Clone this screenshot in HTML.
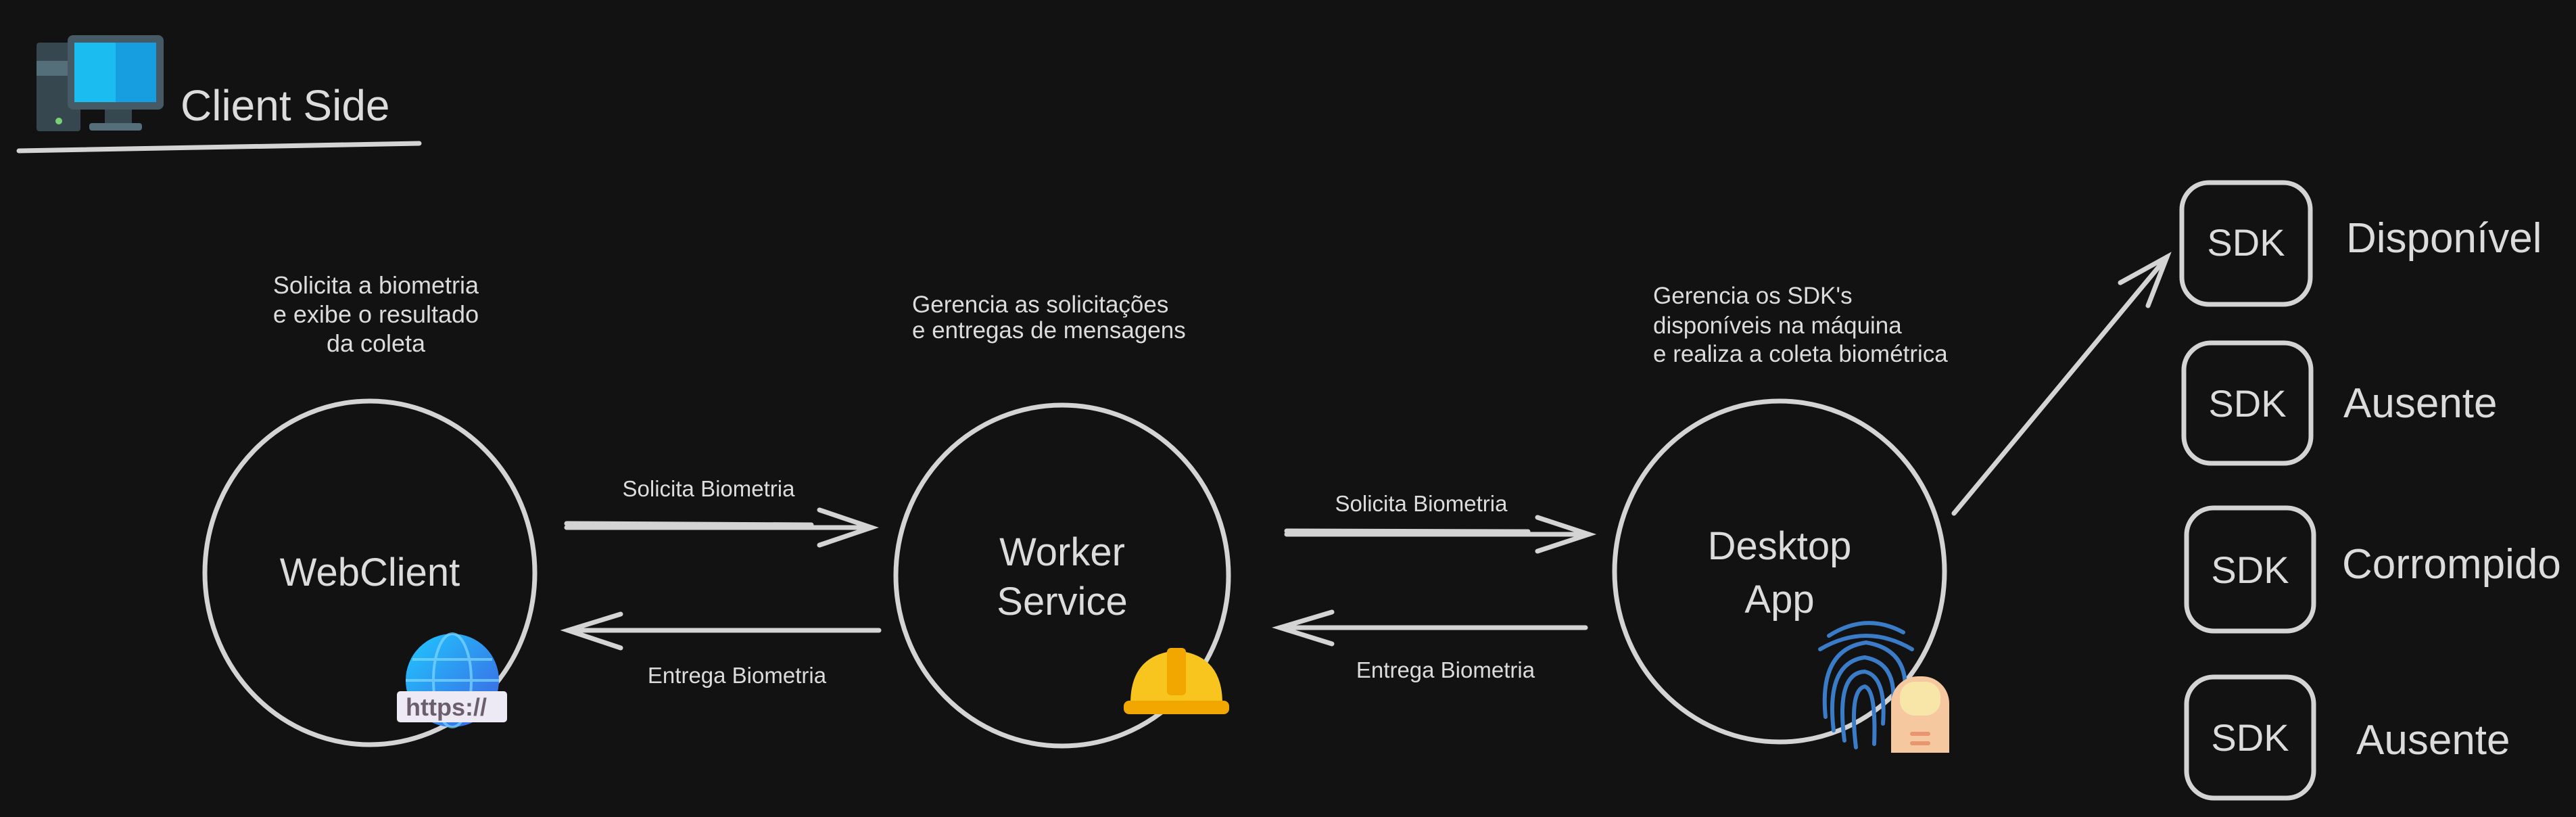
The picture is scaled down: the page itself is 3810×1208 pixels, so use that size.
<!DOCTYPE html>
<html><head><meta charset="utf-8"><style>
html,body{margin:0;padding:0;background:#121212;}
svg{display:block;}
text{font-family:"Liberation Sans",sans-serif;fill:#dcdcdc;}
</style></head><body>
<svg width="3810" height="1208" viewBox="0 0 3810 1208" xmlns="http://www.w3.org/2000/svg">
<rect width="3810" height="1208" fill="#121212"/>
<g fill="none" stroke="#d4d4d4" stroke-width="7" stroke-linecap="round">
<path d="M28 223 L620 212"/>
<ellipse cx="547" cy="847" rx="244" ry="254"/>
<ellipse cx="1571" cy="851" rx="246" ry="252"/>
<ellipse cx="2632" cy="845" rx="244" ry="252"/>
<path d="M838 780 L1289 780 M838 774 L1200 776"/>
<path d="M1212 754 L1289 780 L1212 806"/>
<path d="M1300 932 L840 932"/>
<path d="M918 908 L840 932 L918 958"/>
<path d="M1903 790 L2350 790 M1903 785 L2260 786"/>
<path d="M2274 765 L2350 790 L2274 815"/>
<path d="M2345 928 L1893 928"/>
<path d="M1970 905 L1893 928 L1970 952"/>
<path d="M2890 759 L3205 380"/>
<path d="M3136 418 L3205 380 L3177 452"/>
<rect x="3227" y="270" width="190" height="180" rx="40"/>
<rect x="3230" y="507" width="188" height="178" rx="40"/>
<rect x="3234" y="751" width="188" height="182" rx="40"/>
<rect x="3234" y="1001" width="188" height="179" rx="40"/>
</g>
<rect x="54" y="63" width="65" height="131" rx="4" fill="#37474f"/>
<rect x="54" y="90" width="65" height="22" fill="#546e7a"/>
<circle cx="87" cy="179" r="5" fill="#76d275"/>
<rect x="100" y="52" width="142" height="110" rx="8" fill="#455a64"/>
<rect x="110" y="63" width="61" height="88" fill="#1bbcf0"/>
<rect x="171" y="63" width="60" height="88" fill="#169ee0"/>
<rect x="155" y="162" width="40" height="22" fill="#37474f"/>
<rect x="132" y="182" width="78" height="11" rx="4" fill="#546e7a"/>
<text x="267" y="178" font-size="64">Client Side</text>
<g font-size="36" text-anchor="middle">
<text x="556" y="434">Solicita a biometria</text>
<text x="556" y="477">e exibe o resultado</text>
<text x="556" y="520">da coleta</text>
</g>
<g font-size="35">
<text x="1349" y="462">Gerencia as solicitações</text>
<text x="1349" y="500">e entregas de mensagens</text>
<text x="2445" y="449">Gerencia os SDK's</text>
<text x="2445" y="493">disponíveis na máquina</text>
<text x="2445" y="535">e realiza a coleta biométrica</text>
</g>
<g font-size="33" text-anchor="middle">
<text x="1048" y="734">Solicita Biometria</text>
<text x="1090" y="1010">Entrega Biometria</text>
<text x="2102" y="756">Solicita Biometria</text>
<text x="2138" y="1002">Entrega Biometria</text>
</g>
<g font-size="58" text-anchor="middle">
<text x="547" y="866">WebClient</text>
<text x="1571" y="836">Worker</text>
<text x="1571" y="909">Service</text>
<text x="2632" y="827">Desktop</text>
<text x="2632" y="906">App</text>
</g>
<g font-size="56" text-anchor="middle">
<text x="3322" y="378">SDK</text>
<text x="3324" y="616">SDK</text>
<text x="3328" y="862">SDK</text>
<text x="3328" y="1110">SDK</text>
</g>
<g font-size="62">
<text x="3470" y="373">Disponível</text>
<text x="3466" y="617">Ausente</text>
<text x="3464" y="855">Corrompido</text>
<text x="3485" y="1115">Ausente</text>
</g>
<defs><linearGradient id="g" x1="0" y1="0" x2="1" y2="1"><stop offset="0" stop-color="#1fc8ff"/><stop offset="1" stop-color="#3f5fe0"/></linearGradient></defs>
<circle cx="669" cy="1006" r="69" fill="url(#g)"/>
<g stroke="#7fd8ff" stroke-width="4" fill="none" opacity="0.7"><ellipse cx="669" cy="1006" rx="28" ry="69"/><path d="M600 1006 L738 1006 M610 975 L728 975 M610 1037 L728 1037"/></g>
<rect x="587" y="1022" width="163" height="46" rx="5" fill="#eeeaf5"/>
<text x="600" y="1058" font-size="36" font-weight="bold" style="fill:#6b5f6e">https://</text>
<path d="M1672 1040 Q1672 968 1740 962 Q1808 968 1808 1040 Z" fill="#f7c51e"/>
<rect x="1726" y="958" width="28" height="70" rx="6" fill="#f2a600"/>
<rect x="1662" y="1036" width="156" height="20" rx="8" fill="#f2a600"/>
<g fill="none" stroke="#3a7cc8" stroke-width="6" stroke-linecap="round">
<path d="M2700 1060 Q2690 960 2760 950 Q2820 960 2818 1020"/>
<path d="M2712 1080 Q2700 980 2758 972 Q2805 980 2800 1040"/>
<path d="M2728 1095 Q2715 995 2758 993 Q2790 1000 2785 1070"/>
<path d="M2745 1105 Q2735 1020 2758 1015 Q2775 1020 2772 1100"/>
<path d="M2705 940 Q2760 905 2815 935"/>
<path d="M2692 960 Q2760 920 2828 960"/>
</g>
<rect x="2797" y="1000" width="86" height="113" rx="40" fill="#f6c8a0"/>
<rect x="2797" y="1060" width="86" height="53" fill="#f6c8a0"/>
<rect x="2810" y="1008" width="60" height="50" rx="22" fill="#f8e6a8"/>
<rect x="2825" y="1082" width="30" height="6" rx="3" fill="#e89570"/>
<rect x="2825" y="1096" width="30" height="6" rx="3" fill="#e89570"/>
</svg>
</body></html>
